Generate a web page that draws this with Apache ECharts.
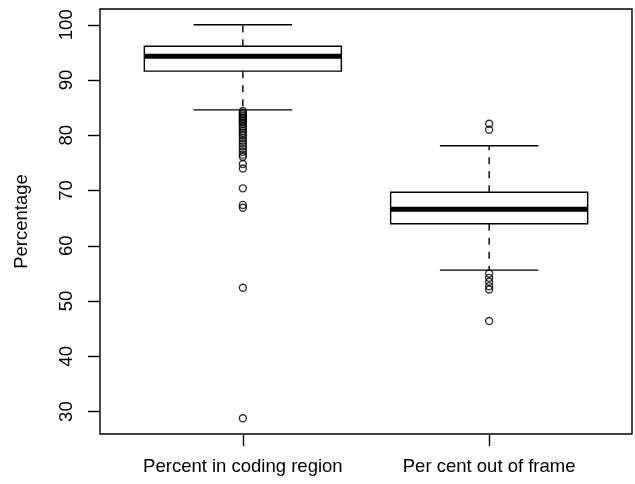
<!DOCTYPE html>
<html>
<head>
  <meta charset="utf-8">
</head>
<body style="height: 100%; margin: 0">
  <div id="container" style="width: 635px; height: 484px"></div>
  <script type="text/javascript" src="https://fastly.jsdelivr.net/npm/echarts@6.0.0/dist/echarts.min.js"></script>
  <script type="text/javascript">
    // box statistics
    const categories = ['Percent in coding region', 'Per cent out of frame'];
    const whiskerLow = [84.6, 55.6];
    const boxLow = [91.6, 64.0];
    const medians = [94.3, 66.6];
    const boxHigh = [96.1, 69.7];
    const whiskerHigh = [100, 78.1];
    const outliersCoding = [84.4, 84.1, 83.8, 83.5, 83.2, 82.9, 82.6, 82.3, 82.0, 81.6, 81.2,
      80.8, 80.4, 80.0, 79.5, 79.0, 78.5, 78.0, 77.5, 77.0, 76.5, 76.1,
      74.8, 74.0, 70.4, 67.4, 66.9, 52.4, 28.8];
    const outliersFrame = [82.1, 81.0, 55.0, 54.2, 53.5, 52.7, 52.1, 46.4];
    const yTicks = [30, 40, 50, 60, 70, 80, 90, 100];

    const font = 'Liberation Sans';
    const fontSize = 18.5;
    const dom = document.getElementById('container');
    const myChart = echarts.init(dom, null, { renderer: 'canvas' });

    function renderBox(params, api) {
      const x = api.value(0);
      const lo = api.coord([x, api.value(1)]);
      const q1 = api.coord([x, api.value(2)]);
      const med = api.coord([x, api.value(3)]);
      const q3 = api.coord([x, api.value(4)]);
      const hi = api.coord([x, api.value(5)]);
      const half = api.size([0.4, 0])[0];
      const cap = api.size([0.2, 0])[0];
      const cx = lo[0];
      const solid = { stroke: '#000', lineWidth: 1.4, fill: null };
      const dashed = { stroke: '#000', lineWidth: 1.4, lineDash: [7, 7] };
      return {
        type: 'group',
        children: [
          { type: 'line', shape: { x1: cx, y1: q3[1], x2: cx, y2: hi[1] }, style: dashed },
          { type: 'line', shape: { x1: cx, y1: q1[1], x2: cx, y2: lo[1] }, style: dashed },
          { type: 'line', shape: { x1: cx - cap, y1: hi[1], x2: cx + cap, y2: hi[1] }, style: solid },
          { type: 'line', shape: { x1: cx - cap, y1: lo[1], x2: cx + cap, y2: lo[1] }, style: solid },
          { type: 'rect', shape: { x: cx - half, y: q3[1], width: half * 2, height: q1[1] - q3[1] },
            style: { fill: '#fff', stroke: '#000', lineWidth: 1.4 } },
          { type: 'line', shape: { x1: cx - half, y1: med[1], x2: cx + half, y2: med[1] },
            style: { stroke: '#000', lineWidth: 5 } }
        ]
      };
    }

    const option = {
      animation: false,
      backgroundColor: '#fff',
      grid: {
        left: 100, right: 3, top: 9, bottom: 50,
        show: true, borderColor: '#000', borderWidth: 1.4, backgroundColor: 'transparent'
      },
      xAxis: {
        type: 'value',
        min: 0.42,
        max: 2.58,
        splitLine: { show: false },
        axisLine: { show: false },
        axisTick: { show: true, length: 12, customValues: [1, 2], lineStyle: { color: '#000', width: 1.4 } },
        axisLabel: {
          customValues: [1, 2],
          formatter: v => categories[Math.round(v) - 1],
          color: '#000', fontFamily: font, fontSize: fontSize, margin: 23
        }
      },
      yAxis: {
        type: 'value',
        min: 25.95,
        max: 102.85,
        name: 'Percentage',
        nameLocation: 'middle',
        nameGap: 69,
        nameTextStyle: { color: '#000', fontFamily: font, fontSize: fontSize },
        splitLine: { show: false },
        axisLine: { show: false },
        axisTick: { show: true, length: 12, customValues: yTicks, lineStyle: { color: '#000', width: 1.4 } },
        axisLabel: {
          customValues: yTicks,
          rotate: 90,
          color: '#000', fontFamily: font, fontSize: fontSize, margin: 24
        }
      },
      series: [
        {
          type: 'custom',
          renderItem: renderBox,
          encode: { x: 0, y: [1, 2, 3, 4, 5] },
          data: categories.map((c, i) => [i + 1, whiskerLow[i], boxLow[i], medians[i], boxHigh[i], whiskerHigh[i]]),
          z: 2
        },
        {
          type: 'scatter',
          symbol: 'circle',
          symbolSize: 7,
          itemStyle: { color: 'rgba(0,0,0,0)', borderColor: '#000', borderWidth: 1.4 },
          data: outliersCoding.map(v => [1, v]).concat(outliersFrame.map(v => [2, v])),
          z: 3
        }
      ]
    };

    myChart.setOption(option);
    window.addEventListener('resize', myChart.resize);
  </script>
</body>
</html>
